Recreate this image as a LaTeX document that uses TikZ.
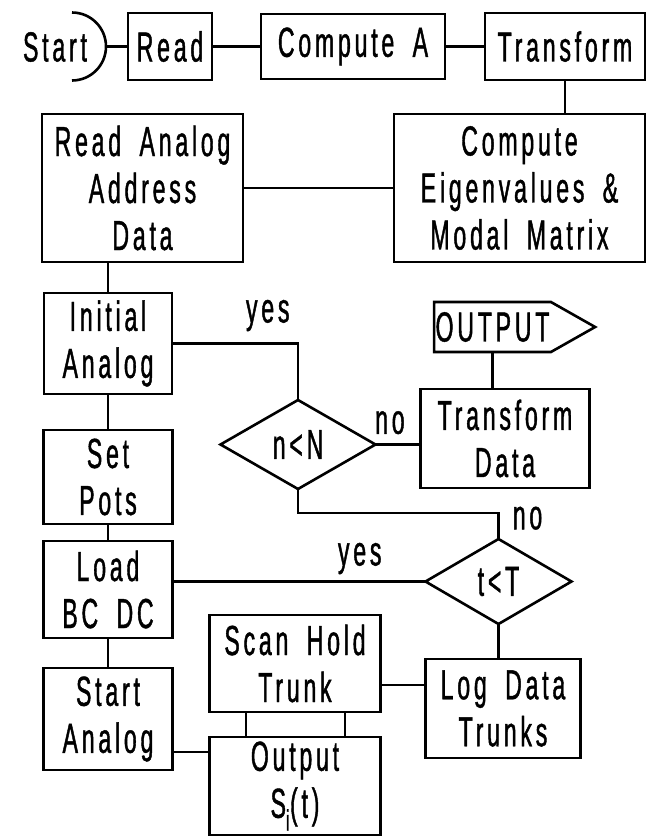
\documentclass[tikz,border=0pt]{standalone}
\usepackage{fontspec}
\setmainfont{Liberation Sans}[FakeStretch=0.55, LetterSpace=9, FakeBold=1, WordSpace=1.8]
\usepackage{tikz}
\usetikzlibrary{shapes.geometric, shapes.symbols, positioning}
\newcommand\lettering{\fontsize{42pt}{47pt}\selectfont}
\tikzset{
  block/.style={rectangle, draw=black, line width=2.6pt, outer sep=0pt,
                inner sep=2pt, align=center, font=\lettering},
  decision/.style={diamond, aspect=1.7, draw=black, line width=2.6pt,
                   outer sep=0pt, inner sep=0pt, font=\lettering},
  outbox/.style={signal, signal to=east, signal pointer angle=59,
                 draw=black, line width=2.6pt, outer sep=0pt,
                 inner xsep=1.5pt, minimum height=50pt, font=\lettering},
  tag/.style={inner sep=1pt, font=\lettering},
  link/.style={line width=2.6pt, draw=black},
}

\begin{document}
\begin{tikzpicture}[x=1pt, y=-1pt]
  \useasboundingbox (0,0) rectangle (649,836);

  % top row
  \node[tag] (start) at (55,47) {Start};
  \node[block, minimum width=84pt, minimum height=67pt] (read)
    at (170,46.5) {Read};
  \node[block, right=49pt of read, minimum width=184pt,
        minimum height=65pt] (compa) {Compute A};
  \node[block, right=40pt of compa, minimum width=160pt,
        minimum height=67pt] (transf) {Transform};
  \coordinate[left=22pt of read] (arcpt);

  \node[block, below=34pt of transf.south east, anchor=north east,
        minimum width=251pt, minimum height=148pt] (eigen)
    {Compute\\Eigenvalues \&\\Modal Matrix};
  \node[block, left=151pt of eigen, minimum width=201pt,
        minimum height=148pt] (rdaddr) {Read Analog\\Address\\Data};

  % left column
  \node[block, below=31pt of rdaddr.south west, anchor=north west,
        xshift=2pt, minimum width=128pt, minimum height=101pt] (init)
    {Initial\\Analog};
  \node[block, below=36pt of init, minimum width=129pt,
        minimum height=94pt] (pots) {Set\\Pots};
  \node[block, below=17pt of pots, minimum width=129pt,
        minimum height=97pt] (bcdc) {Load\\BC DC};
  \node[block, below=30pt of bcdc, minimum width=129pt,
        minimum height=102pt] (stan) {Start\\Analog};

  % tests and output side
  \node[decision, minimum width=155pt, minimum height=89pt] (ncheck)
    at (298,444.5) {n<N};
  \node[block, right=45pt of ncheck, yshift=6pt, minimum width=169pt,
        minimum height=99pt] (tdata) {Transform\\Data};
  \node[outbox, above=37pt of tdata, xshift=-12.5pt] (outp) {OUTPUT};
  \node[decision, below=51pt of tdata, xshift=-6.5pt,
        minimum width=146pt, minimum height=85pt] (tcheck) {t<T};
  \node[block, below=35pt of tcheck, xshift=4.5pt, minimum width=155pt,
        minimum height=99pt] (logd) {Log Data\\Trunks};
  \node[block, left=45pt of logd, yshift=45pt, minimum width=171pt,
        minimum height=97pt] (scan) {Scan Hold\\Trunk};
  \node[block, below=25pt of scan, minimum width=171pt,
        minimum height=98pt] (outs) {Output\\S\textsubscript{i}(t)};

  \draw[link] ([shift={(0pt,34pt)}]arcpt) ++(-34pt,0pt)
    arc[start angle=90, end angle=-90, radius=34pt];
  \draw[link] (arcpt) -- (read);
  \draw[link] (read) -- (compa);
  \draw[link] (compa) -- (transf);
  \draw[link] (transf) -- (transf |- eigen.north);
  \draw[link] (rdaddr) -- (eigen);
  \draw[link] (init.north) -- (init.north |- rdaddr.south);
  \draw[link] (init) -- (pots);
  \draw[link] (pots) -- (bcdc);
  \draw[link] (bcdc) -- (stan);

  \draw[link] (init.east) -| node[tag, above=10pt, pos=0.38] {yes}
    (ncheck.north);
  \draw[link] (ncheck.east) -- node[tag, above=8pt, pos=0.32] {no}
    (ncheck.east -| tdata.west);
  \draw[link] (outp.south) -- (outp.south |- tdata.north);
  \draw[link] (ncheck.south) -- ++(0,24) -| node[tag, right=12pt, pos=0.6] {no}
    (tcheck.north);
  \draw[link] (tcheck.west) -- node[tag, above=5pt, pos=0.26] {yes}
    (tcheck.west -| bcdc.east);
  \draw[link] (tcheck.south) -- (tcheck.south |- logd.north);

  \draw[link] ([yshift=-21.5pt]scan.east) -- ([yshift=-21.5pt]scan.east -| logd.west);
  \draw[link] ([xshift=-49pt]scan.south) -- ([xshift=-49pt]outs.north);
  \draw[link] ([xshift=50pt]scan.south) -- ([xshift=50pt]outs.north);
  \draw[link] ([yshift=-33pt]stan.east) -- ([yshift=-33pt]stan.east -| outs.west);
\end{tikzpicture}
\end{document}
